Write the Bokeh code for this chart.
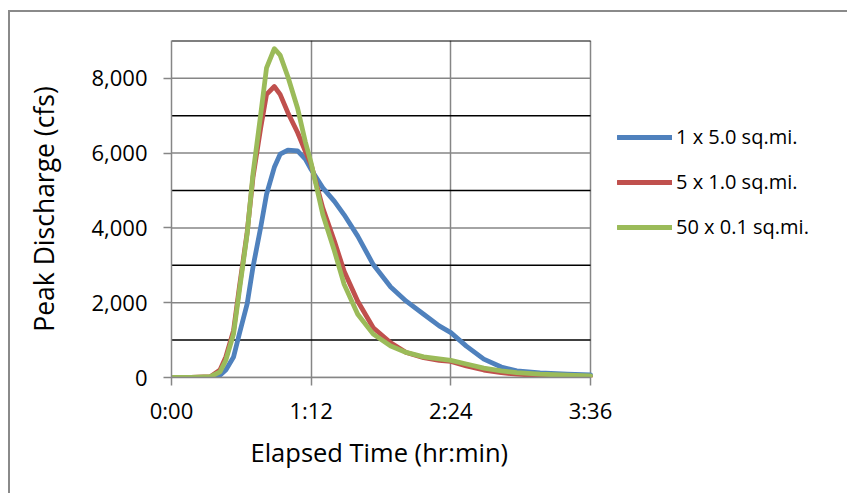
from bokeh.plotting import figure
from bokeh.models import (FixedTicker, NumeralTickFormatter, Legend, LegendItem,
                          Range1d, ColumnDataSource, Title)
from bokeh.embed import file_html
from bokeh.resources import INLINE

# Elapsed time in minutes
time_min = [0, 10, 20, 25, 28, 32, 35, 39, 42, 46, 49, 53, 56, 60, 65, 69, 72, 78, 84, 89,
            96, 104, 113, 121, 130, 138, 144, 152, 161, 170, 178, 190, 204, 216]
q_1x5 = [0, 0, 10, 60, 200, 550, 1170, 1970, 2950, 4020, 4900, 5620, 5970, 6080, 6060, 5840,
         5560, 5070, 4710, 4350, 3780, 3020, 2420, 2040, 1690, 1380, 1200, 840, 490, 280, 180,
         120, 90, 70]
q_5x1 = [0, 0, 20, 200, 550, 1260, 2420, 3880, 5350, 6680, 7570, 7780, 7570, 7080, 6550, 6050,
         5690, 4530, 3640, 2840, 2040, 1330, 930, 670, 530, 460, 430, 310, 200, 130, 90, 50,
         35, 25]
q_50x01 = [0, 0, 20, 150, 460, 1170, 2330, 3840, 5440, 7040, 8280, 8790, 8620, 8040, 7200,
           6300, 5730, 4360, 3380, 2490, 1690, 1160, 840, 670, 550, 500, 460, 360, 250, 180,
           130, 90, 60, 45]

series_names = ["1 x 5.0 sq.mi.", "5 x 1.0 sq.mi.", "50 x 0.1 sq.mi."]
series_colors = ["#4F81BD", "#C0504D", "#9BBB59"]

x_tick_values = [0, 72, 144, 216]
x_tick_labels = ["0:00", "1:12", "2:24", "3:36"]
y_major_ticks = [0, 2000, 4000, 6000, 8000]
y_minor_lines = [1000, 3000, 5000, 7000, 9000]
t_start, t_end = 0, 216
q_end = 9010
x_title = "Elapsed Time (hr:min)"
y_title = "Peak Discharge (cfs)"

FONT = "Open Sans"
GRAY = "#868686"

# layout (pixels)
CANVAS_W, CANVAS_H = 839, 483
BORDER_L, BORDER_T, BORDER_B = 161, 28, 118
DATA_W = 419                      # width of the time axis in px
FRAME_W = CANVAS_W - BORDER_L     # frame extends to the right edge (room for the legend)
x_view_end = t_end * FRAME_W / DATA_W

p = figure(width=CANVAS_W, height=CANVAS_H, output_backend="svg", toolbar_location=None,
           x_range=Range1d(t_start, x_view_end), y_range=Range1d(0, q_end),
           min_border_left=BORDER_L, min_border_right=0, min_border_top=BORDER_T,
           min_border_bottom=BORDER_B)
p.styles = {"border-top": "2px solid #8a8a8a", "border-left": "2px solid #8a8a8a",
            "margin-top": "10px", "margin-left": "8px"}
p.outline_line_color = None

# grids: vertical via grid, horizontal drawn only across the data span
p.xgrid.ticker = FixedTicker(ticks=x_tick_values)
p.xgrid.grid_line_color = GRAY
p.xgrid.grid_line_width = 1.5
p.ygrid.grid_line_color = None
p.segment(x0=[t_start] * len(y_major_ticks), x1=[t_end] * len(y_major_ticks),
          y0=y_major_ticks, y1=y_major_ticks, line_color=GRAY, line_width=1.5)
p.segment(x0=[t_start] * len(y_minor_lines), x1=[t_end] * len(y_minor_lines),
          y0=y_minor_lines, y1=y_minor_lines, line_color="black", line_width=1.5)

# axes
p.xaxis.ticker = FixedTicker(ticks=x_tick_values)
p.xaxis.bounds = (t_start, t_end)
p.xaxis.major_label_overrides = dict(zip(x_tick_values, x_tick_labels))
p.yaxis.ticker = FixedTicker(ticks=y_major_ticks)
p.yaxis.formatter = NumeralTickFormatter(format="0,0")
for ax in (p.xaxis[0], p.yaxis[0]):
    ax.axis_line_color = GRAY
    ax.axis_line_width = 1.5
    ax.major_tick_line_color = GRAY
    ax.major_tick_line_width = 1.5
    ax.major_tick_out = 8
    ax.major_tick_in = 0
    ax.minor_tick_line_color = None
    ax.major_label_text_font = FONT
    ax.major_label_text_font_size = "22px"
    ax.major_label_text_color = "black"
    ax.axis_label_text_font = FONT
    ax.axis_label_text_font_style = "normal"
    ax.axis_label_text_color = "black"
p.yaxis.axis_label_text_font_size = "26.5px"
p.yaxis.axis_label = y_title
p.xaxis.major_label_standoff = 9
p.yaxis.major_label_standoff = 16
p.yaxis.axis_label_standoff = 26

# x-axis title centred under the time span (not the whole frame)
xt = Title(text=x_title, align="left", offset=79, text_font=FONT, text_font_size="25.5px",
           text_font_style="normal", text_color="black", standoff=10)
p.add_layout(xt, "below")

src = ColumnDataSource(dict(t=time_min, a=q_1x5, b=q_5x1, c=q_50x01))
renderers = []
for col, color in zip(["a", "b", "c"], series_colors):
    r = p.line("t", col, source=src, line_color=color, line_width=4.8,
               line_join="round", line_cap="round")
    renderers.append(r)

legend = Legend(items=[LegendItem(label=n, renderers=[r]) for n, r in zip(series_names, renderers)],
                location=(446, 137))
legend.glyph_width = 55
legend.glyph_height = 20
legend.label_height = 20
legend.label_standoff = 4
legend.spacing = 18
legend.padding = 0
legend.margin = 0
legend.border_line_color = None
legend.background_fill_alpha = 0
legend.label_text_font = FONT
legend.label_text_font_size = "20px"
legend.label_text_color = "black"
p.add_layout(legend)

open("out.html", "w").write(file_html(p, INLINE))
